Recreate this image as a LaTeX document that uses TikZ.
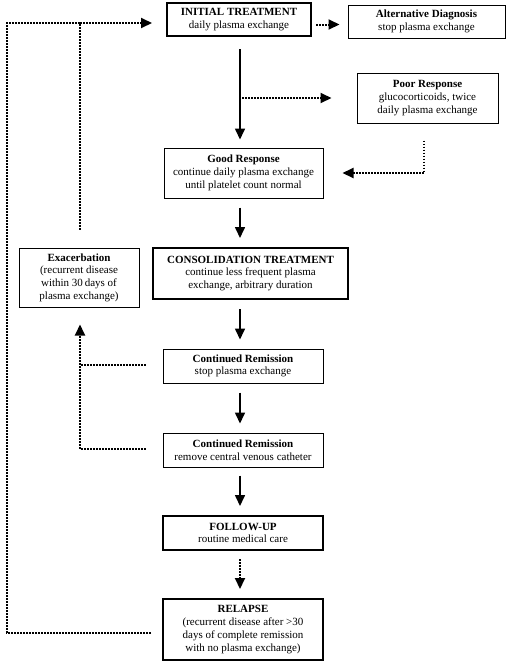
\documentclass[tikz,border=0pt]{standalone}
\usepackage{fontspec}
\setmainfont{Liberation Serif}
\usetikzlibrary{arrows.meta}
\begin{document}
\begin{tikzpicture}[x=1pt,y=-1pt,
  box/.style={draw,line width=1pt,align=center,inner sep=0pt,
    font=\fontsize{11}{12.7}\selectfont},
  bbox/.style={box,line width=2pt},
  arr/.style={line width=1.6pt,-{Triangle[length=11pt,width=10pt]}},
  dot/.style={line width=2pt,dash pattern=on 1.6pt off 1.4pt},
  darr/.style={dot,-{Triangle[length=11pt,width=10pt]}}]
\useasboundingbox (0,0) rectangle (520,665);
\fill[white] (0,0) rectangle (520,665);

\node[bbox,minimum width=144pt,minimum height=33pt] (init) at (239,19.5)
  {\textbf{INITIAL TREATMENT}\\daily plasma exchange};
\node[box,minimum width=157pt,minimum height=33pt] (alt) at (426.5,21.5)
  {\textbf{Alternative Diagnosis}\\stop plasma exchange};
\node[box,minimum width=141pt,minimum height=50pt] (poor) at (427.5,98)
  {\textbf{Poor Response}\\glucocorticoids, twice\\daily plasma exchange};
\node[box,minimum width=159pt,minimum height=50pt] (good) at (243.5,173)
  {\textbf{Good Response}\\continue daily plasma exchange\\until platelet count normal};
\node[bbox,minimum width=195pt,minimum height=51pt] (cons) at (250.5,273.5)
  {\textbf{CONSOLIDATION TREATMENT}\\continue less frequent plasma\\exchange, arbitrary duration};
\node[box,minimum width=120pt,minimum height=59pt] (exac) at (79,277.5)
  {\textbf{Exacerbation}\\(recurrent disease\\within 30\,days of\\plasma exchange)};
\node[box,minimum width=160pt,minimum height=34pt] (cr1) at (243,366)
  {\textbf{Continued Remission}\\stop plasma exchange};
\node[box,minimum width=160pt,minimum height=34pt] (cr2) at (243,450)
  {\textbf{Continued Remission}\\remove central venous catheter};
\node[bbox,minimum width=160pt,minimum height=34pt] (fu) at (243,533)
  {\textbf{FOLLOW-UP}\\routine medical care};
\node[bbox,minimum width=160pt,minimum height=61pt] (rel) at (243,629.5)
  {\textbf{RELAPSE}\\(recurrent disease after >30\\days of complete remission\\with no plasma exchange)};

\coordinate (spine) at (240,0);
\coordinate (top) at (0,23);
\coordinate (farleft) at (7,0);
\coordinate (midleft) at (80,0);
\coordinate (poorx) at (424,0);
\coordinate (altrow) at (0,24.5);
\coordinate (cr1row) at (0,365);
\coordinate (cr2row) at (0,449);
\coordinate (relrow) at (0,633);

% main spine
\draw[arr,shorten <=12pt,shorten >=8pt] (init.south -| spine) -- (good.north -| spine);
\draw[arr,shorten <=9pt,shorten >=9pt] (good.south -| spine) -- (cons.north -| spine);
\draw[arr,shorten <=9pt,shorten >=9pt] (cons.south -| spine) -- (cr1.north -| spine);
\draw[arr,shorten <=9pt,shorten >=9pt] (cr1.south -| spine) -- (cr2.north -| spine);
\draw[arr,shorten <=8pt,shorten >=9pt] (cr2.south -| spine) -- (fu.north -| spine);
\draw[darr,shorten <=8pt,shorten >=9pt] (fu.south -| spine) -- (rel.north -| spine);

% side branches
\draw[darr,shorten <=4pt,shorten >=8pt] (init.east |- altrow) -- (alt.west |- altrow);
\draw[darr,shorten >=25pt] ([xshift=2pt]spine |- poor.west) -- (poor.west);
\draw[darr,shorten <=17pt,shorten >=19pt] (poor.south -| poorx) -- (poorx |- good.east) -- (good.east);

% exacerbation loop
\draw[darr,shorten <=18pt,shorten >=14pt] (exac.north -| midleft) -- (midleft |- top) -- (init.west |- top);
\draw[dot,shorten <=17pt] (cr1.west |- cr1row) -- (midleft |- cr1row);
\draw[darr,shorten <=17pt,shorten >=17pt] (cr2.west |- cr2row) -- (midleft |- cr2row) -- (exac.south -| midleft);

% relapse loop
\draw[dot,shorten <=11pt] (rel.west |- relrow) -- (farleft |- relrow) -- (farleft |- top) -- (midleft |- top);
\end{tikzpicture}
\end{document}
